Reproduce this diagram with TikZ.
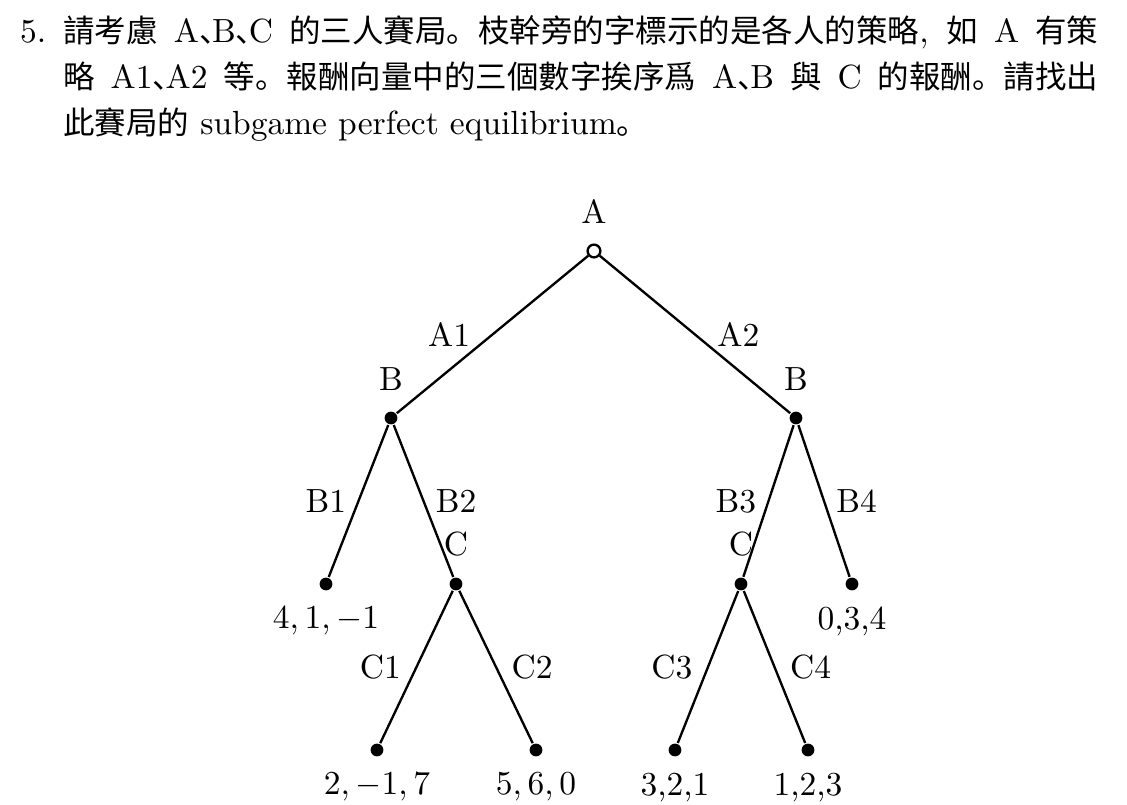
\documentclass[tikz,border=0pt]{standalone}
\usepackage{fontspec}
\usepackage{tikz}
\usetikzlibrary{positioning}
\newfontfamily\cjk{Noto Sans CJK SC}[Scale=0.94]
\newcommand\zh[1]{{\cjk #1}}
\newcommand\zhcomma{{\cjk 、}\kern-.55em}

\begin{document}
\begin{tikzpicture}[x=1.049cm, y=1.049cm, line width=0.7pt,
    dot/.style={circle, fill, inner sep=0pt, minimum size=3.8pt},
    root/.style={circle, draw, fill=white, inner sep=0pt, minimum size=3.8pt},
    qline/.style={anchor=base west, inner sep=0pt}]
    \useasboundingbox (0,0) rectangle (11.27,8.05);

    % question text
    \node[qline] (num) at (0.19,7.62) {5.};
    \node[qline] (line1) at (0.62,7.62) {\makebox[309pt][s]{\zh{請考慮} A\zhcomma B\zhcomma C \zh{的三人賽局。枝幹旁的字標示的是各人的策略}, \zh{如} A \zh{有策}}};
    \node[qline] (line2) at (0.62,7.16) {\makebox[309pt][s]{\zh{略} A1\zhcomma A2 \zh{等。報酬向量中的三個數字挨序爲} A\zhcomma B \zh{與} C \zh{的報酬。請找出}}};
    \node[qline] (line3) at (0.62,6.70) {\zh{此賽局的} subgame perfect equilibrium\zh{。}};

    % decision nodes
    \node[root] (a) at (5.94,5.54) {};
    \node[dot] (bl) at (3.91,3.87) {};
    \node[dot] (br) at (7.96,3.87) {};
    \node[dot] (cl) at (4.56,2.21) {};
    \node[dot] (cr) at (7.41,2.21) {};
    \node[above=2.4pt of a] (na) {A};
    \node[above=2.4pt of bl] (nbl) {B};
    \node[above=2.4pt of br] (nbr) {B};
    \node[above=2.4pt of cl] (ncl) {C};
    \node[above=2.4pt of cr] (ncr) {C};

    % payoffs
    \node[dot] (p1) at (3.26,2.21) {};
    \node[dot] (p2) at (8.52,2.21) {};
    \node[dot] (p3) at (3.77,0.55) {};
    \node[dot] (p4) at (5.36,0.55) {};
    \node[dot] (p5) at (6.75,0.55) {};
    \node[dot] (p6) at (8.08,0.55) {};
    \node[below=0.9pt of p1] (u1) {$4, 1, -1$};
    \node[below=0.9pt of p2] (u2) {0,3,4};
    \node[below=0.9pt of p3] (u3) {$2, -1, 7$};
    \node[below=0.9pt of p4] (u4) {$5, 6, 0$};
    \node[below=0.9pt of p5] (u5) {3,2,1};
    \node[below=0.9pt of p6] (u6) {1,2,3};

    \draw (a) -- node[left=3pt] {A1} (bl);
    \draw (a) -- node[right=3pt] {A2} (br);
    \draw (bl) -- node[left] {B1} (p1);
    \draw (bl) -- node[right] {B2} (cl);
    \draw (br) -- node[left] {B3} (cr);
    \draw (br) -- node[right] {B4} (p2);
    \draw (cl) -- node[left=1pt] {C1} (p3);
    \draw (cl) -- node[right=1pt] {C2} (p4);
    \draw (cr) -- node[left=1pt] {C3} (p5);
    \draw (cr) -- node[right=1pt] {C4} (p6);
\end{tikzpicture}
\end{document}
